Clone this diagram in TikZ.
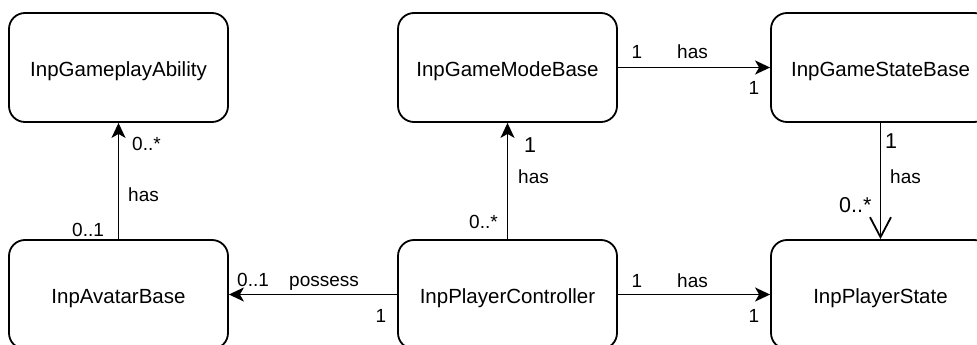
\documentclass[tikz,border=0pt]{standalone}
\usepackage{fontspec}
\setmainfont{Liberation Sans}
\usetikzlibrary{arrows.meta}

\begin{document}
\begin{tikzpicture}[x=1pt, y=-1pt,
  cls/.style={draw, line width=1.8pt, rounded corners=16pt,
    minimum width=219pt, minimum height=109pt, inner sep=0pt,
    text height=22pt, text depth=4pt,
    font=\fontsize{20.5}{24}\selectfont},
  rel/.style={line width=1.8pt},
  filledtip/.style={rel, -{Stealth[length=15pt, width=14pt, inset=4pt]}},
  opentip/.style={rel, -{Straight Barb[length=20pt, width=21pt]}},
  lbl/.style={inner sep=0pt, font=\fontsize{19}{22}\selectfont},
  biglbl/.style={inner sep=0pt, font=\fontsize{21.5}{24}\selectfont}
]
\useasboundingbox (0,0) rectangle (977,345);

% classes
\node[cls] (ability)    at (118.5, 67.5)  {InpGameplayAbility};
\node[cls] (avatar)     at (118.5, 294.5) {InpAvatarBase};
\node[cls] (gamemode)   at (507.5, 67.5)  {InpGameModeBase};
\node[cls] (controller) at (507.5, 294.5) {InpPlayerController};
\node[cls] (gamestate)  at (880.5, 67.5)  {InpGameStateBase};
\node[cls] (playerstate) at (880.5, 294.5) {InpPlayerState};

% associations
\draw[filledtip] (avatar.north) -- (ability.south);
\draw[filledtip] (controller.north) -- (gamemode.south);
\draw[filledtip] (controller.west) -- (avatar.east);
\draw[filledtip] (controller.east) -- (playerstate.west);
\draw[filledtip] (gamemode.east) -- (gamestate.west);
\draw[opentip] (gamestate.south) -- (playerstate.north);

% avatar -> ability
\node[lbl, anchor=base west] (l1) at (132,150) {0..*};
\node[lbl, anchor=base west] (l2) at (128,201) {has};
\node[lbl, anchor=base west] (l3) at (72,236) {0..1};

% controller -> avatar
\node[lbl, anchor=base west] (l4) at (237,286) {0..1};
\node[lbl, anchor=base west] (l5) at (289,286) {possess};
\node[lbl, anchor=base] (l6) at (381,322) {1};

% controller -> game mode
\node[biglbl, anchor=base] (l7) at (530,152) {1};
\node[lbl, anchor=base west] (l8) at (518,183) {has};
\node[lbl, anchor=base west] (l9) at (469,228) {0..*};

% game mode -> game state
\node[lbl, anchor=base] (l10) at (637,59) {1};
\node[lbl, anchor=base west] (l11) at (677,59) {has};
\node[lbl, anchor=base] (l12) at (754,95) {1};

% game state -> player state
\node[biglbl, anchor=base] (l13) at (891,148) {1};
\node[lbl, anchor=base west] (l14) at (890,183) {has};
\node[biglbl, anchor=base west] (l15) at (839,212) {0..*};

% controller -> player state
\node[lbl, anchor=base] (l16) at (637,287) {1};
\node[lbl, anchor=base west] (l17) at (677,287) {has};
\node[lbl, anchor=base] (l18) at (754,322) {1};
\end{tikzpicture}
\end{document}
